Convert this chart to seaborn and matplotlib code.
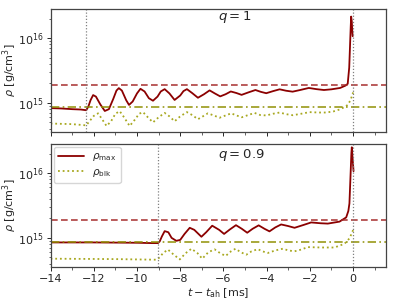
import numpy as np
import pandas as pd
import matplotlib
matplotlib.use("Agg")
import matplotlib.pyplot as plt
import seaborn as sns
from matplotlib.ticker import MultipleLocator

# ---------------- data (rho in 1e15 g/cm^3) ----------------
t_max_q1 = [-14.0, -13.5, -13.0, -12.6, -12.35, -12.25, -12.15, -12.03, -11.9, -11.7, -11.49, -11.3,
            -11.1, -10.95, -10.84, -10.7, -10.5, -10.37, -10.2, -10.0, -9.84, -9.65, -9.45, -9.26,
            -9.05, -8.9, -8.72, -8.5, -8.26, -8.0, -7.85, -7.69, -7.45, -7.18, -6.9, -6.64, -6.4,
            -6.15, -5.9, -5.66, -5.4, -5.16, -4.85, -4.52, -4.27, -4.02, -3.7, -3.4, -3.1, -2.8,
            -2.45, -2.05, -1.7, -1.35, -1.0, -0.6, -0.35, -0.25, -0.18, -0.14, -0.11, -0.09,
            -0.06, -0.04, -0.02]
rho_max_q1 = [0.83, 0.82, 0.80, 0.79, 0.77, 0.88, 1.10, 1.32, 1.25, 0.95, 0.75, 0.80,
              1.15, 1.55, 1.69, 1.55, 1.10, 0.93, 1.05, 1.40, 1.65, 1.50, 1.18, 1.08,
              1.25, 1.50, 1.63, 1.40, 1.11, 1.30, 1.52, 1.63, 1.42, 1.20, 1.36, 1.56, 1.40,
              1.26, 1.36, 1.50, 1.42, 1.33, 1.45, 1.58, 1.48, 1.41, 1.52, 1.62, 1.54, 1.49,
              1.58, 1.70, 1.63, 1.58, 1.62, 1.70, 1.85, 1.97, 3.5, 8.0, 15.0, 21.5,
              18.0, 13.0, 10.7]

t_blk_q1 = [-14.0, -13.0, -12.35, -12.2, -12.0, -11.8, -11.6, -11.41, -11.2, -11.0, -10.8, -10.6,
            -10.34, -10.1, -9.9, -9.72, -9.5, -9.26, -9.0, -8.72, -8.5, -8.26, -8.0, -7.69,
            -7.45, -7.18, -6.95, -6.72, -6.45, -6.18, -5.9, -5.64, -5.4, -5.15, -4.85, -4.56,
            -4.3, -4.02, -3.7, -3.4, -3.1, -2.79, -2.4, -2.02, -1.6, -1.25, -0.9, -0.63, -0.4,
            -0.25, -0.12, -0.03, 0.0]
rho_blk_q1 = [0.48, 0.47, 0.45, 0.52, 0.63, 0.69, 0.55, 0.44, 0.52, 0.68, 0.745, 0.60,
              0.44, 0.55, 0.68, 0.72, 0.60, 0.50, 0.60, 0.70, 0.62, 0.52, 0.62, 0.72,
              0.65, 0.56, 0.62, 0.69, 0.64, 0.59, 0.64, 0.69, 0.64, 0.60, 0.65, 0.70,
              0.65, 0.64, 0.68, 0.71, 0.67, 0.645, 0.68, 0.72, 0.71, 0.71, 0.74, 0.79, 0.86,
              0.93, 1.10, 1.35, 1.45]

t_max_q09 = [-14.0, -12.0, -10.0, -9.3, -9.03, -8.95, -8.85, -8.72, -8.55, -8.4, -8.18, -8.0,
             -7.8, -7.56, -7.35, -7.02, -6.8, -6.52, -6.2, -5.97, -5.7, -5.42, -5.15, -4.9,
             -4.65, -4.37, -4.1, -3.87, -3.6, -3.33, -3.0, -2.71, -2.3, -1.94, -1.5, -1.17,
             -0.63, -0.32, -0.22, -0.17, -0.12, -0.08, -0.06, -0.03, 0.02]
rho_max_q09 = [0.85, 0.85, 0.84, 0.83, 0.83, 0.88, 1.05, 1.27, 1.22, 1.00, 0.90, 0.93,
               1.15, 1.43, 1.33, 1.04, 1.22, 1.54, 1.33, 1.15, 1.35, 1.57, 1.38, 1.20,
               1.38, 1.56, 1.38, 1.26, 1.45, 1.61, 1.52, 1.43, 1.58, 1.73, 1.68, 1.66,
               1.78, 2.07, 2.6, 3.4, 9.0, 20.0, 25.0, 18.0, 10.7]

t_blk_q09 = [-14.0, -11.0, -9.1, -8.95, -8.8, -8.57, -8.3, -8.02, -7.75, -7.48, -7.2, -6.98,
             -6.7, -6.41, -6.15, -5.9, -5.65, -5.44, -5.2, -4.94, -4.7, -4.41, -4.2, -3.94,
             -3.6, -3.25, -3.0, -2.71, -2.4, -2.10, -1.48, -0.86, -0.4, -0.17, -0.05, 0.0]
rho_blk_q09 = [0.477, 0.47, 0.46, 0.50, 0.58, 0.66, 0.55, 0.465, 0.58, 0.68, 0.58, 0.477,
               0.60, 0.665, 0.58, 0.525, 0.62, 0.68, 0.60, 0.55, 0.62, 0.67, 0.62, 0.585,
               0.64, 0.68, 0.64, 0.62, 0.66, 0.72, 0.71, 0.71, 0.81, 0.98, 1.2, 1.32]

rho_dash = 1.9e15      # dashed reference level
rho_dashdot = 8.5e14   # dash-dot reference level
t_event = [-12.35, -9.03]
panel_labels = [r"$q=1$", r"$q=0.9$"]

# ---------------- style ----------------
sns.set_theme(style="ticks")
plt.rcParams['font.family'] = ['DejaVu Sans']
plt.rcParams['mathtext.fontset'] = 'dejavusans'

fig = plt.figure(figsize=(3.95, 3.04), dpi=100)
ax1 = fig.add_axes([0.128, 0.567, 0.848, 0.403])
ax2 = fig.add_axes([0.128, 0.123, 0.848, 0.403], sharex=ax1)

c_max = "#8b0000"
c_blk = "#a8a820"
c_dash = "#a52a2a"
c_dd = "#8f8f00"

series = [
    (ax1, t_max_q1, rho_max_q1, t_blk_q1, rho_blk_q1),
    (ax2, t_max_q09, rho_max_q09, t_blk_q09, rho_blk_q09),
]
for i, (ax, tm, rm, tb, rb) in enumerate(series):
    dfm = pd.DataFrame({"t": tm, "rho": np.array(rm) * 1e15})
    dfb = pd.DataFrame({"t": tb, "rho": np.array(rb) * 1e15})
    sns.lineplot(data=dfm, x="t", y="rho", ax=ax, color=c_max, lw=1.3, sort=False,
                 label=r"$\rho_{\rm max}$" if i == 1 else None)
    sns.lineplot(data=dfb, x="t", y="rho", ax=ax, color=c_blk, lw=1.3, sort=False,
                 linestyle=(0, (1, 1.6)), label=r"$\rho_{\rm blk}$" if i == 1 else None)
    ax.axhline(rho_dash, color=c_dash, lw=1.2, ls=(0, (4, 2)), alpha=0.9)
    ax.axhline(rho_dashdot, color=c_dd, lw=1.2, ls=(0, (5, 2, 1, 2)), alpha=0.9)
    ax.axvline(t_event[i], color="gray", lw=0.9, ls=(0, (1, 1.5)))
    ax.axvline(0.0, color="gray", lw=0.9, ls=(0, (1, 1.5)))
    ax.set_yscale("log")
    ax.set_ylim(3.6e14, 2.8e16)
    ax.set_xlim(-14, 1.5)
    ax.set_ylabel(r"$\rho\ [\mathrm{g/cm^3}]$", fontsize=8)
    ax.yaxis.set_label_coords(-0.095, 0.5)
    ax.text(0.5, 0.935 if i == 0 else 0.915, panel_labels[i], transform=ax.transAxes,
            ha="left", va="center", fontsize=9.5)
    ax.xaxis.set_major_locator(MultipleLocator(2))
    ax.xaxis.set_minor_locator(MultipleLocator(1))
    ax.tick_params(which="major", labelsize=8, length=3, width=0.7, pad=2)
    ax.tick_params(which="minor", length=1.8, width=0.5)
    for s in ax.spines.values():
        s.set_linewidth(0.9)
        s.set_color("#444444")

ax1.tick_params(labelbottom=False)
ax1.set_xlabel("")
ax2.set_xlabel(r"$t - t_{\rm ah}$ [ms]", fontsize=8, labelpad=2)
ax2.legend(loc="upper left", fontsize=7.5, frameon=True, framealpha=0.8,
           handlelength=2.5, borderpad=0.4, labelspacing=0.3, borderaxespad=0.3)

fig.savefig("out.png", dpi=100)
